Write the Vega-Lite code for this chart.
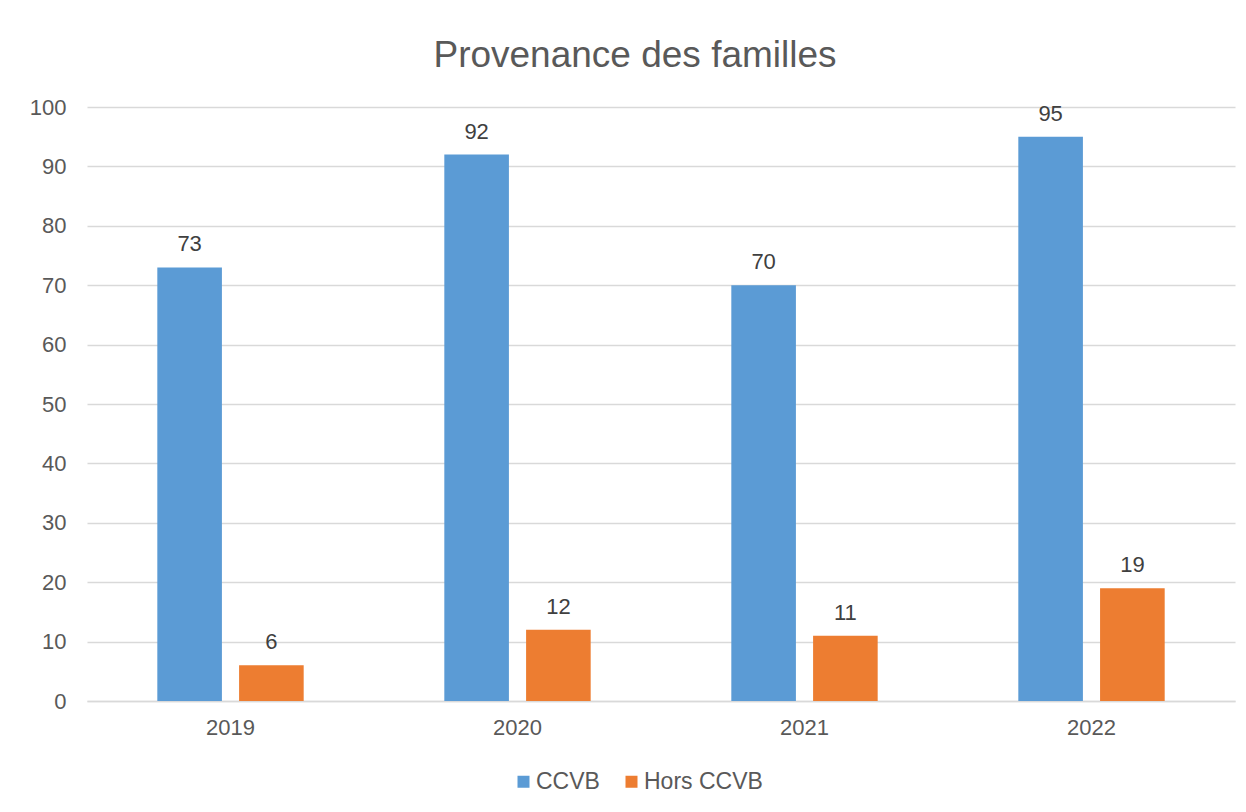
{
  "$schema": "https://vega.github.io/schema/vega-lite/v6.json",
  "autosize": {"type": "none"},
  "width": 1148,
  "height": 594,
  "padding": {"top": 107, "left": 87, "right": 11, "bottom": 111},
  "background": "white",
  "title": {
    "text": "Provenance des familles",
    "font": "Liberation Sans",
    "fontSize": 37,
    "fontWeight": "normal",
    "color": "#595959",
    "anchor": "middle",
    "baseline": "alphabetic",
    "offset": 42,
    "dx": -26,
    "dy": 50
  },
  "config": {
    "view": {"stroke": null},
    "font": "Liberation Sans"
  },
  "data": {
    "values": [
      {"annee": "2019", "serie": "CCVB", "valeur": 73},
      {"annee": "2019", "serie": "Hors CCVB", "valeur": 6},
      {"annee": "2020", "serie": "CCVB", "valeur": 92},
      {"annee": "2020", "serie": "Hors CCVB", "valeur": 12},
      {"annee": "2021", "serie": "CCVB", "valeur": 70},
      {"annee": "2021", "serie": "Hors CCVB", "valeur": 11},
      {"annee": "2022", "serie": "CCVB", "valeur": 95},
      {"annee": "2022", "serie": "Hors CCVB", "valeur": 19}
    ]
  },
  "encoding": {
    "x": {
      "field": "annee",
      "type": "nominal",
      "title": null,
      "scale": {"paddingInner": 0.49, "paddingOuter": 0.245},
      "axis": {
        "labelAngle": 0,
        "labelFont": "Liberation Sans",
        "labelFontSize": 22,
        "labelColor": "#595959",
        "labelPadding": 16,
        "ticks": false,
        "domainColor": "#d9d9d9",
        "domainWidth": 1.5,
        "grid": false
      }
    },
    "xOffset": {
      "field": "serie",
      "type": "nominal",
      "scale": {"paddingInner": 0.21, "paddingOuter": 0}
    },
    "y": {
      "field": "valeur",
      "type": "quantitative",
      "title": null,
      "scale": {"domain": [0, 100], "nice": false},
      "axis": {
        "values": [0, 10, 20, 30, 40, 50, 60, 70, 80, 90, 100],
        "labelFont": "Liberation Sans",
        "labelFontSize": 22,
        "labelColor": "#595959",
        "labelPadding": 21,
        "ticks": false,
        "domain": false,
        "gridColor": "#d9d9d9",
        "gridWidth": 1.5
      }
    }
  },
  "layer": [
    {
      "mark": {"type": "bar"},
      "encoding": {
        "color": {
          "field": "serie",
          "type": "nominal",
          "title": null,
          "scale": {"domain": ["CCVB", "Hors CCVB"], "range": ["#5B9BD5", "#ED7D31"]},
          "legend": {
            "orient": "none",
            "direction": "horizontal",
            "legendX": 425,
            "legendY": 663,
            "symbolType": "square",
            "symbolSize": 144,
            "symbolStrokeWidth": 0,
            "labelFont": "Liberation Sans",
            "labelFontSize": 23,
            "labelColor": "#595959",
            "labelOffset": 1,
            "columnPadding": 20
          }
        }
      }
    },
    {
      "mark": {
        "type": "text",
        "baseline": "alphabetic",
        "dy": -16,
        "font": "Liberation Sans",
        "fontSize": 22,
        "color": "#404040"
      },
      "encoding": {
        "text": {"field": "valeur", "type": "quantitative"}
      }
    }
  ]
}
